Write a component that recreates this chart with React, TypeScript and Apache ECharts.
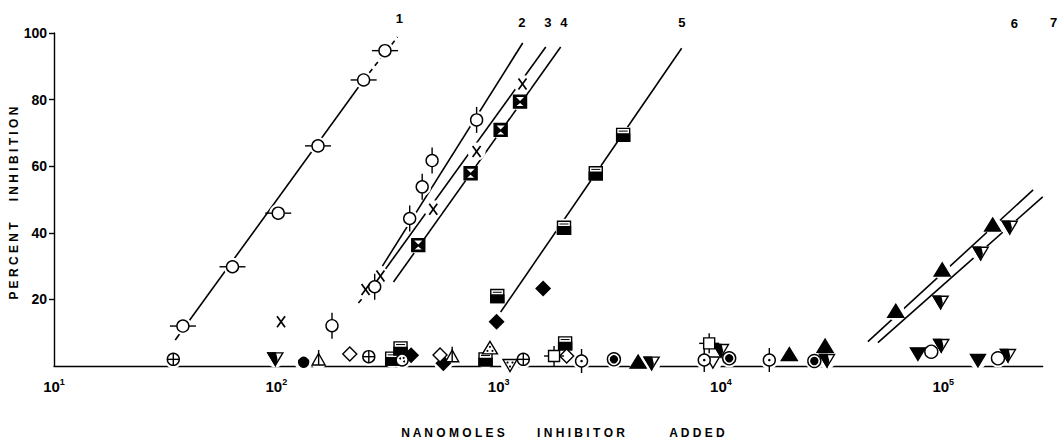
import React, { useEffect, useRef } from "react";
import * as echarts from "echarts";

// ---------- data (x = nanomoles inhibitor, y = percent inhibition) ----------
const curve1Circles = [[38, 12.0], [63.5, 29.8], [102, 45.9], [154, 66.1], [247, 85.9], [308, 94.7]];
const curve2Circles = [[178, 12.1], [277, 23.8], [398, 44.3], [453, 53.8], [502, 61.7], [796, 73.9]];
const curve3Crosses = [[105, 13.3], [252, 23.0], [294, 27.0], [508, 47.1], [796, 64.4], [1280, 84.7]];
const curve4Squares = [[435, 36.3], [748, 57.9], [1021, 70.9], [1248, 79.4]];
const curve5Squares = [[986, 21.0], [1968, 41.5], [2735, 57.9], [3631, 69.4], [332, 2.2], [362, 5.3], [873, 2.0], [1991, 6.8]];
const filledDiamonds = [[979, 13.3], [1585, 23.3], [404, 3.2], [564, 0.8]];
const curve6Triangles = [[61100, 16.3], [98900, 28.7], [166700, 42.2], [4240, 1.0], [20300, 3.3], [29400, 5.8]];
const curve7Triangles = [[97300, 19.3], [147300, 34.0], [199000, 41.8], [99, 2.3], [4877, 1.0], [10000, 4.8], [30000, 1.8], [97900, 6.3], [195400, 3.3]];
const filledDownTriangles = [[76900, 3.8], [143200, 1.8]];
const openDownTriangles = [[9200, 1.2]];
const crossedCircles = [[34.4, 2.0], [260.6, 2.8], [1291, 2.0]];
const openDiamonds = [[214, 3.6], [545, 3.3], [2023, 3.0]];
const openTrianglesBar = [[155, 1.8], [618, 2.8]];
const filledCircles = [[132.7, 1.1]];
const dottedCirclesBar = [[2360, 1.5], [8410, 1.8], [16500, 1.8]];
const dottedCircles = [[368, 1.8]];
const ringCircles = [[3300, 2.0], [10890, 2.3], [26300, 1.5]];
const openCircles = [[88300, 4.3], [176200, 2.3]];
const dottedTriangles = [[914, 5.3]];
const dottedDownTriangles = [[1125, 0.3]];
const barredSquares = [[1775, 3.0], [8850, 6.8]];

// regression lines
const line1Solid = [[35.1, 7.8], [247, 85.9]];
const line1Dashed = [[247, 85.9], [351, 98.8]];
const line2 = [[300, 30.0], [1283, 97.0]];
const line3Dashed = [[234, 18.9], [294, 27.0]];
const line3 = [[294, 27.0], [1629, 95.8]];
const line4 = [[336.5, 25.2], [1901, 95.8]];
const line5 = [[1021, 16.2], [6653, 95.4]];
const line6 = [[45800, 7.3], [253600, 52.9]];
const line7 = [[50800, 7.0], [280000, 50.8]];

// curve numbers
const curveLabelText = ["1", "2", "3", "4", "5", "6", "7"];
const curveLabelX = [358, 1271, 1663, 1963, 6668, 208900, 313600];
const curveLabelY = [104.5, 103.3, 103.3, 103.3, 103.3, 103.0, 103.3];

const yTicks = [0, 20, 40, 60, 80, 100];

// ---------- rendering helpers ----------
const K = "#000";
const W = "#fff";
const LW = 1.4;
const FONT = '"Liberation Sans", Arial, Helvetica, sans-serif';

const circ = (cx: number, cy: number, r: number, fill: string) => ({
  type: "circle", shape: { cx, cy, r }, style: { fill, stroke: K, lineWidth: LW },
});
const seg = (x1: number, y1: number, x2: number, y2: number, lw = LW) => ({
  type: "line", shape: { x1, y1, x2, y2 }, style: { stroke: K, lineWidth: lw },
});
const poly = (points: number[][], fill: string, stroke = true) => ({
  type: "polygon", shape: { points }, style: { fill, stroke: stroke ? K : null, lineWidth: LW },
});
const box = (x: number, y: number, w: number, h: number, fill: string, stroke = true) => ({
  type: "rect", shape: { x, y, width: w, height: h }, style: { fill, stroke: stroke ? K : null, lineWidth: LW },
});
const dot = (cx: number, cy: number, r: number) => ({
  type: "circle", shape: { cx, cy, r }, style: { fill: K },
});

const TYPE_NAMES = [
  "circH", "circV", "cross", "sqHour", "sqHalf", "diamondF", "triF", "triDownHalf",
  "triDownF", "triDownO", "circPlus", "diamondO", "triOBar", "circF", "circDotV",
  "circDot", "circRing", "circO", "triDot", "triDownDot", "sqBar",
];

function markerShapes(t: string, x: number, y: number): any[] {
  switch (t) {
    case "circH":
      return [seg(x - 13, y, x - 6, y), seg(x + 6, y, x + 13, y), circ(x, y, 6, W)];
    case "circV":
      return [seg(x, y - 13, x, y - 6), seg(x, y + 6, x, y + 13), circ(x, y, 6, W)];
    case "cross":
      return [seg(x - 4, y - 5.5, x + 4, y + 5.5, 1.7), seg(x + 4, y - 5.5, x - 4, y + 5.5, 1.7)];
    case "sqHour":
      return [
        box(x - 6.5, y - 6.5, 13, 13, K),
        poly([[x - 4, y - 4.5], [x + 4, y - 4.5], [x, y - 0.5]], W, false),
        poly([[x, y + 1.5], [x + 3.5, y + 4.5], [x - 3.5, y + 4.5]], W, false),
      ];
    case "sqHalf":
      return [box(x - 6.5, y - 6.5, 13, 13, W), box(x - 6.5, y - 1, 13, 7.5, K), seg(x - 4.5, y - 3.8, x + 4.5, y - 3.8, 1)];
    case "diamondF":
      return [poly([[x, y - 7], [x + 7, y], [x, y + 7], [x - 7, y]], K)];
    case "diamondO":
      return [poly([[x, y - 7], [x + 7, y], [x, y + 7], [x - 7, y]], W)];
    case "triF":
      return [poly([[x, y - 7.5], [x + 8, y + 5.5], [x - 8, y + 5.5]], K)];
    case "triDownHalf":
      return [
        poly([[x - 7.5, y - 5.5], [x + 7.5, y - 5.5], [x, y + 7]], W),
        poly([[x - 7.5, y - 5.5], [x, y - 5.5], [x + 1.5, y + 1], [x, y + 7]], K),
      ];
    case "triDownF":
      return [poly([[x - 7.5, y - 5.5], [x + 7.5, y - 5.5], [x, y + 7]], K)];
    case "triDownO":
      return [poly([[x - 6.5, y - 5], [x + 6.5, y - 5], [x, y + 6]], W)];
    case "circPlus":
      return [circ(x, y, 6, W), seg(x - 6, y, x + 6, y), seg(x, y - 6, x, y + 6)];
    case "triOBar":
      return [poly([[x, y - 6.5], [x + 6.5, y + 5], [x - 6.5, y + 5]], W), seg(x, y - 10, x, y + 5)];
    case "circF":
      return [circ(x, y, 5, K)];
    case "circDotV":
      return [seg(x, y - 12, x, y - 6), seg(x, y + 6, x, y + 12), circ(x, y, 6, W), dot(x, y, 1.3)];
    case "circDot":
      return [circ(x, y, 6, W), dot(x - 2, y - 1.5, 1), dot(x + 2, y + 1.5, 1), dot(x + 1.5, y - 2, 1)];
    case "circRing":
      return [circ(x, y, 6.5, W), circ(x, y, 3.5, K)];
    case "circO":
      return [circ(x, y, 6.5, W)];
    case "triDot":
      return [poly([[x, y - 7], [x + 7.5, y + 5.5], [x - 7.5, y + 5.5]], W), dot(x, y - 1.5, 1.1), dot(x - 2.5, y + 2.5, 1.1), dot(x + 2.5, y + 2.5, 1.1)];
    case "triDownDot":
      return [poly([[x - 7, y - 5.5], [x + 7, y - 5.5], [x, y + 6.5]], W), dot(x, y + 1.5, 1.1), dot(x - 2.5, y - 2.5, 1.1), dot(x + 2.5, y - 2.5, 1.1)];
    case "sqBar":
      return [
        seg(x - 10, y, x - 5.5, y), seg(x + 5.5, y, x + 10, y),
        seg(x, y - 10, x, y - 5.5), seg(x, y + 5.5, x, y + 10),
        box(x - 5.5, y - 5.5, 11, 11, W),
      ];
    default:
      return [];
  }
}

const markerGroups: [string, number[][]][] = [
  ["circH", curve1Circles],
  ["circV", curve2Circles],
  ["cross", curve3Crosses],
  ["sqHour", curve4Squares],
  ["sqHalf", curve5Squares],
  ["diamondF", filledDiamonds],
  ["triF", curve6Triangles],
  ["triDownHalf", curve7Triangles],
  ["triDownF", filledDownTriangles],
  ["triDownO", openDownTriangles],
  ["circPlus", crossedCircles],
  ["diamondO", openDiamonds],
  ["triOBar", openTrianglesBar],
  ["circF", filledCircles],
  ["circDotV", dottedCirclesBar],
  ["circDot", dottedCircles],
  ["circRing", ringCircles],
  ["circO", openCircles],
  ["triDot", dottedTriangles],
  ["triDownDot", dottedDownTriangles],
  ["sqBar", barredSquares],
];

const markerData = markerGroups.flatMap(([t, pts]) =>
  pts.map((p) => [p[0], p[1], TYPE_NAMES.indexOf(t)])
);

const lineSeries = (data: number[][], dashed = false) => ({
  type: "line",
  data,
  showSymbol: false,
  symbol: "none",
  silent: true,
  z: 2,
  lineStyle: { color: K, width: 1.6, type: dashed ? [5, 4] : "solid" },
});

const supFormatter = (v: number) => {
  const e = Math.round(Math.log10(v));
  return `{b|10}{s|${e}}`;
};

const option: any = {
  animation: false,
  backgroundColor: "#fff",
  grid: { left: 54, top: 33, right: 20.3, bottom: 74 },
  xAxis: {
    type: "log",
    logBase: 10,
    min: 10,
    max: 280000,
    axisLine: { show: true, lineStyle: { color: K, width: 1.4 } },
    axisTick: { show: false },
    splitLine: { show: false },
    minorTick: { show: false },
    axisLabel: {
      showMaxLabel: false,
      margin: 11,
      color: K,
      fontSize: 15,
      fontWeight: "bold",
      fontFamily: FONT,
      formatter: supFormatter,
      rich: {
        b: { fontSize: 15, fontWeight: "bold", fontFamily: FONT, color: K, verticalAlign: "bottom", lineHeight: 17 },
        s: { fontSize: 9, fontWeight: "bold", fontFamily: FONT, color: K, verticalAlign: "top", lineHeight: 11 },
      },
    },
  },
  yAxis: {
    type: "value",
    min: yTicks[0],
    max: yTicks[yTicks.length - 1],
    interval: 20,
    axisLine: { show: true, lineStyle: { color: K, width: 1.4 } },
    axisTick: { show: true, inside: false, length: 5, lineStyle: { color: K, width: 1.4 } },
    splitLine: { show: false },
    axisLabel: {
      showMinLabel: false,
      margin: 7,
      color: K,
      fontSize: 14,
      fontWeight: "bold",
      fontFamily: FONT,
    },
  },
  graphic: [
    {
      type: "text", x: 14, y: 261, rotation: Math.PI / 2,
      style: { text: "P E R C E N T", font: `bold 12px ${FONT}`, fill: K, align: "center", verticalAlign: "middle" },
    },
    {
      type: "text", x: 14, y: 154, rotation: Math.PI / 2,
      style: { text: "I N H I B I T I O N", font: `bold 12px ${FONT}`, fill: K, align: "center", verticalAlign: "middle" },
    },
    {
      type: "text", x: 453, y: 433,
      style: { text: "N A N O M O L E S", font: `bold 12px ${FONT}`, fill: K, align: "center", verticalAlign: "middle" },
    },
    {
      type: "text", x: 581, y: 433,
      style: { text: "I N H I B I T O R", font: `bold 12px ${FONT}`, fill: K, align: "center", verticalAlign: "middle" },
    },
    {
      type: "text", x: 697, y: 433,
      style: { text: "A D D E D", font: `bold 12px ${FONT}`, fill: K, align: "center", verticalAlign: "middle" },
    },
  ],
  series: [
    lineSeries(line1Solid),
    lineSeries(line1Dashed, true),
    lineSeries(line2),
    lineSeries(line3Dashed, true),
    lineSeries(line3),
    lineSeries(line4),
    lineSeries(line5),
    lineSeries(line6),
    lineSeries(line7),
    {
      type: "custom",
      name: "halo",
      z: 3,
      silent: true,
      clip: false,
      encode: { x: 0, y: 1 },
      data: markerData,
      renderItem: (params: any, api: any) => {
        const p = api.coord([api.value(0), api.value(1)]);
        return { type: "circle", shape: { cx: p[0], cy: p[1], r: 9 }, style: { fill: W } };
      },
    },
    {
      type: "custom",
      name: "markers",
      z: 4,
      silent: true,
      clip: false,
      encode: { x: 0, y: 1 },
      data: markerData,
      renderItem: (params: any, api: any) => {
        const p = api.coord([api.value(0), api.value(1)]);
        const t = TYPE_NAMES[api.value(2)];
        return { type: "group", children: markerShapes(t, p[0], p[1]) };
      },
    },
    {
      type: "custom",
      name: "curveLabels",
      z: 5,
      silent: true,
      clip: false,
      encode: { x: 0, y: 1 },
      data: curveLabelX.map((x, i) => [x, curveLabelY[i]]),
      renderItem: (params: any, api: any) => {
        const p = api.coord([api.value(0), api.value(1)]);
        return {
          type: "text",
          x: p[0],
          y: p[1],
          style: {
            text: curveLabelText[params.dataIndex],
            font: `bold 13px ${FONT}`,
            fill: K,
            align: "center",
            verticalAlign: "middle",
          },
        };
      },
    },
  ],
};

export default function App() {
  const ref = useRef<HTMLDivElement>(null);
  useEffect(() => {
    if (!ref.current) return;
    const chart = echarts.init(ref.current, null, { renderer: "svg" });
    chart.setOption(option);
    return () => chart.dispose();
  }, []);
  return (
    <div
      ref={ref}
      style={{ position: "fixed", left: 0, top: 0, width: 1063, height: 440, background: "#fff" }}
    />
  );
}
